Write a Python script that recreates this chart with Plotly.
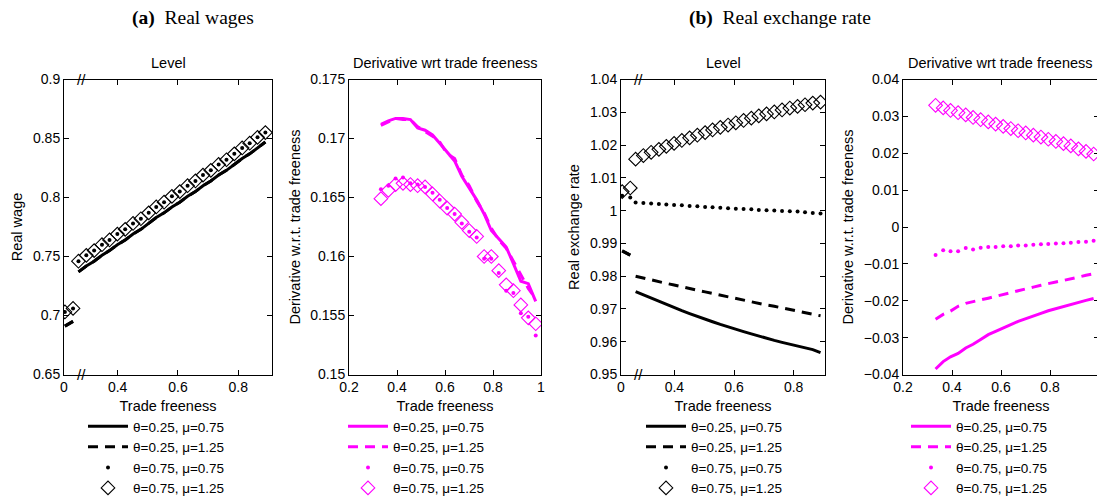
import plotly.graph_objects as go

# ---------------- data ----------------
series_names = ["θ=0.25, μ=0.75", "θ=0.25, μ=1.25", "θ=0.75, μ=0.75", "θ=0.75, μ=1.25"]

# trade freeness grid (level panels: near-zero segment + main segment)
x_zero = [0.225, 0.252]
x_level = [0.270, 0.296, 0.322, 0.348, 0.373, 0.399, 0.425, 0.451, 0.477, 0.503,
           0.528, 0.554, 0.580, 0.606, 0.632, 0.658, 0.683, 0.709, 0.735, 0.761,
           0.787, 0.813, 0.838, 0.864, 0.890]
x_deriv = [0.333, 0.364, 0.394, 0.425, 0.456, 0.486, 0.517, 0.548, 0.578, 0.609,
           0.640, 0.670, 0.701, 0.732, 0.763, 0.793, 0.824, 0.855, 0.885, 0.916,
           0.947, 0.978]

# (a) Real wages - level
wage_zero_s1 = [0.691, 0.695]
wage_zero_s2 = [0.691, 0.695]
wage_zero_s3 = [0.703, 0.706]
wage_zero_s4 = [0.703, 0.706]
wage_s1 = [0.737, 0.742, 0.746, 0.751, 0.755, 0.760, 0.764, 0.769, 0.773, 0.778,
           0.783, 0.787, 0.792, 0.796, 0.801, 0.805, 0.810, 0.814, 0.819, 0.823,
           0.828, 0.833, 0.837, 0.842, 0.847]
wage_s2 = [0.737, 0.742, 0.746, 0.751, 0.755, 0.760, 0.764, 0.769, 0.773, 0.778,
           0.783, 0.787, 0.792, 0.796, 0.801, 0.805, 0.810, 0.814, 0.819, 0.823,
           0.828, 0.833, 0.837, 0.842, 0.847]
wage_s3 = [0.746, 0.751, 0.755, 0.760, 0.764, 0.769, 0.773, 0.778, 0.782, 0.787,
           0.792, 0.796, 0.801, 0.805, 0.810, 0.814, 0.819, 0.823, 0.828, 0.832,
           0.837, 0.842, 0.846, 0.851, 0.855]
wage_s4 = [0.746, 0.751, 0.755, 0.760, 0.764, 0.769, 0.773, 0.778, 0.782, 0.787,
           0.792, 0.796, 0.801, 0.805, 0.810, 0.814, 0.819, 0.823, 0.828, 0.832,
           0.837, 0.842, 0.846, 0.851, 0.855]

# (a) Real wages - derivative
dwage_s1 = [0.1712, 0.1715, 0.1717, 0.1717, 0.1716, 0.1709, 0.1707, 0.1703, 0.1696, 0.1688,
            0.1681, 0.1668, 0.1658, 0.1648, 0.1636, 0.1622, 0.1615, 0.1608, 0.1594, 0.1579,
            0.1577, 0.1562]
dwage_s2 = [0.1711, 0.1714, 0.1717, 0.1716, 0.1716, 0.1710, 0.1706, 0.1702, 0.1697, 0.1687,
            0.1683, 0.1669, 0.1660, 0.1647, 0.1637, 0.1624, 0.1614, 0.1607, 0.1596, 0.1585,
            0.1573, 0.1564]
dwage_s3 = [0.1657, 0.1660, 0.1666, 0.1667, 0.1662, 0.1661, 0.1659, 0.1654, 0.1648, 0.1641,
            0.1636, 0.1628, 0.1621, 0.1616, 0.1598, 0.1598, 0.1586, 0.1571, 0.1569, 0.1552,
            0.1549, 0.1533]
dwage_s4 = [0.1649, 0.1656, 0.1661, 0.1662, 0.1661, 0.1660, 0.1659, 0.1653, 0.1647, 0.1641,
            0.1636, 0.1629, 0.1622, 0.1617, 0.1600, 0.1600, 0.1588, 0.1576, 0.1571, 0.1559,
            0.1548, 0.1543]

# (b) Real exchange rate - level
rer_zero_s1 = [0.9877, 0.9864]
rer_zero_s2 = [0.9877, 0.9864]
rer_zero_s3 = [1.0045, 1.0040]
rer_zero_s4 = [1.0058, 1.0069]
rer_s1 = [0.9753, 0.9743, 0.9733, 0.9723, 0.9713, 0.9704, 0.9695, 0.9686, 0.9677, 0.9669,
          0.9661, 0.9653, 0.9645, 0.9638, 0.9631, 0.9624, 0.9617, 0.9611, 0.9604, 0.9598,
          0.9592, 0.9587, 0.9581, 0.9576, 0.9567]
rer_s2 = [0.9800, 0.9794, 0.9789, 0.9783, 0.9778, 0.9773, 0.9767, 0.9762, 0.9757, 0.9752,
          0.9747, 0.9742, 0.9737, 0.9732, 0.9727, 0.9722, 0.9717, 0.9712, 0.9708, 0.9703,
          0.9698, 0.9694, 0.9689, 0.9684, 0.9679]
rer_s3 = [1.0025, 1.0023, 1.0022, 1.0020, 1.0019, 1.0017, 1.0016, 1.0014, 1.0013, 1.0011,
          1.0010, 1.0009, 1.0007, 1.0006, 1.0005, 1.0004, 1.0002, 1.0001, 1.0000, 0.9999,
          0.9998, 0.9997, 0.9995, 0.9993, 0.9991]
rer_s4 = [1.0157, 1.0168, 1.0178, 1.0187, 1.0196, 1.0205, 1.0214, 1.0222, 1.0230, 1.0238,
          1.0246, 1.0254, 1.0261, 1.0268, 1.0275, 1.0282, 1.0289, 1.0295, 1.0301, 1.0307,
          1.0313, 1.0318, 1.0323, 1.0328, 1.0331]

# (b) Real exchange rate - derivative
drer_s1 = [-0.0385, -0.0365, -0.0352, -0.0343, -0.0328, -0.0318, -0.0305, -0.0292, -0.0283, -0.0273,
           -0.0265, -0.0256, -0.0248, -0.0241, -0.0234, -0.0227, -0.0221, -0.0215, -0.0210, -0.0205,
           -0.0199, -0.0194]
drer_s2 = [-0.0250, -0.0237, -0.0228, -0.0215, -0.0207, -0.0203, -0.0198, -0.0193, -0.0188, -0.0184,
           -0.0178, -0.0173, -0.0167, -0.0163, -0.0158, -0.0153, -0.0149, -0.0145, -0.0140, -0.0135,
           -0.0131, -0.0127]
drer_s3 = [-0.0076, -0.0063, -0.0066, -0.0066, -0.0057, -0.0061, -0.0056, -0.0054, -0.0054, -0.0052,
           -0.0052, -0.0050, -0.0050, -0.0048, -0.0047, -0.0046, -0.0045, -0.0044, -0.0043, -0.0041,
           -0.0040, -0.0037]
drer_s4 = [0.0330, 0.0323, 0.0316, 0.0310, 0.0304, 0.0297, 0.0291, 0.0285, 0.0279, 0.0273,
           0.0267, 0.0261, 0.0255, 0.0249, 0.0244, 0.0238, 0.0232, 0.0226, 0.0220, 0.0212,
           0.0205, 0.0198]

level_xticks = [0.0, 0.4, 0.6, 0.8]
level_xticktext = ["0", "0.4", "0.6", "0.8"]

# ---------------- figure ----------------
W, H = 1099, 500
FONT = "Liberation Sans, Arial, Helvetica, sans-serif"
SERIF = "Liberation Serif, Times New Roman, serif"
MAG = "#ff00ff"
BLK = "#000000"

fig = go.Figure()


def px_x(p):
    return p / W


def px_y(p):
    return 1 - p / H


ydom = [px_y(374.5), px_y(79.5)]
xdoms = [[px_x(64), px_x(272)], [px_x(349), px_x(541)],
         [px_x(621), px_x(825)], [px_x(903), 1.0]]


def add_panel(idx, ys_list, color, legend_name):
    xa = "x" if idx == 1 else f"x{idx}"
    ya = "y" if idx == 1 else f"y{idx}"
    styles = [
        dict(mode="lines", line=dict(color=color, width=3, dash="solid")),
        dict(mode="lines", line=dict(color=color, width=3, dash="10px,7px")),
        dict(mode="markers", marker=dict(color=color, size=4, symbol="circle")),
        dict(mode="markers", marker=dict(color=color, size=10.5, symbol="diamond-open",
                                         line=dict(width=1.1, color=color))),
    ]
    for k, (name, (x, y), st) in enumerate(zip(series_names, ys_list, styles)):
        fig.add_trace(go.Scatter(x=x, y=y, name=name, xaxis=xa, yaxis=ya,
                                 legend=legend_name, legendgroup=f"{legend_name}_{k}",
                                 connectgaps=False, **st))


def seg(xz, yz, xm, ym):
    return (list(xz) + [None] + list(xm), list(yz) + [None] + list(ym))


add_panel(1, [seg(x_zero, wage_zero_s1, x_level, wage_s1),
              seg(x_zero, wage_zero_s2, x_level, wage_s2),
              seg(x_zero, wage_zero_s3, x_level, wage_s3),
              seg(x_zero, wage_zero_s4, x_level, wage_s4)], BLK, "legend")
add_panel(2, [(x_deriv, dwage_s1), (x_deriv, dwage_s2),
              (x_deriv, dwage_s3), (x_deriv, dwage_s4)], MAG, "legend2")
add_panel(3, [seg(x_zero, rer_zero_s1, x_level, rer_s1),
              seg(x_zero, rer_zero_s2, x_level, rer_s2),
              seg(x_zero, rer_zero_s3, x_level, rer_s3),
              seg(x_zero, rer_zero_s4, x_level, rer_s4)], BLK, "legend3")
add_panel(4, [(x_deriv, drer_s1), (x_deriv, drer_s2),
              (x_deriv, drer_s3), (x_deriv, drer_s4)], MAG, "legend4")

axis_common = dict(showline=True, linecolor="black", linewidth=1, mirror="allticks",
                   ticks="inside", ticklen=5, tickcolor="black", showgrid=False,
                   zeroline=False, tickfont=dict(family=FONT, size=14, color="black"),
                   title_font=dict(family=FONT, size=14.5, color="black"))

lvl_ranges = [[0.222, 0.912], [0.221, 0.905]]
fig.update_layout(
    xaxis=dict(domain=xdoms[0], anchor="y", range=lvl_ranges[0],
               tickvals=[lvl_ranges[0][0]] + level_xticks[1:], ticktext=level_xticktext,
               title=dict(text="Trade freeness", standoff=6), **axis_common),
    xaxis2=dict(domain=xdoms[1], anchor="y2", range=[0.2, 1.0], dtick=0.2, tick0=0.2,
                title=dict(text="Trade freeness", standoff=6), **axis_common),
    xaxis3=dict(domain=xdoms[2], anchor="y3", range=lvl_ranges[1],
                tickvals=[lvl_ranges[1][0]] + level_xticks[1:], ticktext=level_xticktext,
                title=dict(text="Trade freeness", standoff=6), **axis_common),
    xaxis4=dict(domain=xdoms[3], anchor="y4", range=[0.2, 1.0], dtick=0.2, tick0=0.2,
                title=dict(text="Trade freeness", standoff=6), **axis_common),
    yaxis=dict(domain=ydom, anchor="x", range=[0.65, 0.9], dtick=0.05, tick0=0.65,
               title=dict(text="Real wage", standoff=6), **axis_common),
    yaxis2=dict(domain=ydom, anchor="x2", range=[0.15, 0.175], dtick=0.005, tick0=0.15,
                title=dict(text="Derivative w.r.t. trade freeness", standoff=6), **axis_common),
    yaxis3=dict(domain=ydom, anchor="x3", range=[0.95, 1.04], dtick=0.01, tick0=0.95,
                title=dict(text="Real exchange rate", standoff=6), **axis_common),
    yaxis4=dict(domain=ydom, anchor="x4", range=[-0.04, 0.04], dtick=0.01, tick0=-0.04,
                title=dict(text="Derivative w.r.t. trade freeness", standoff=6), **axis_common),
)

leg_common = dict(yanchor="top", xanchor="left", bgcolor="rgba(255,255,255,0)",
                  font=dict(family=FONT, size=13.5, color="black"),
                  tracegroupgap=0, itemwidth=40, borderwidth=0)
leg_y = px_y(411)
fig.update_layout(
    legend=dict(x=px_x(83), y=leg_y, **leg_common),
    legend2=dict(x=px_x(343), y=leg_y, **leg_common),
    legend3=dict(x=px_x(641), y=leg_y, **leg_common),
    legend4=dict(x=px_x(906), y=leg_y, **leg_common),
)

annotations = []
for dom, txt in zip(xdoms, ["Level", "Derivative wrt trade freeness",
                            "Level", "Derivative wrt trade freeness"]):
    annotations.append(dict(x=(dom[0] + dom[1]) / 2 if dom[1] < 1 else px_x(1000),
                            y=px_y(63), xref="paper", yref="paper",
                            text=txt, showarrow=False,
                            font=dict(family=FONT, size=14.5, color="black"),
                            xanchor="center", yanchor="middle"))
annotations.append(dict(x=px_x(193), y=px_y(18), xref="paper", yref="paper",
                        text="<b>(a)</b>  Real wages", showarrow=False,
                        font=dict(family=SERIF, size=19.5, color="black"),
                        xanchor="center", yanchor="middle"))
annotations.append(dict(x=px_x(780), y=px_y(18), xref="paper", yref="paper",
                        text="<b>(b)</b>  Real exchange rate", showarrow=False,
                        font=dict(family=SERIF, size=19.5, color="black"),
                        xanchor="center", yanchor="middle"))
for xr, yr in [("x", "y domain"), ("x3", "y3 domain")]:
    for yy in [0, 1]:
        annotations.append(dict(x=0.28, y=yy, xref=xr, yref=yr, text="//",
                                showarrow=False, font=dict(family=FONT, size=15, color="black"),
                                xanchor="center", yanchor="middle"))
fig.update_layout(annotations=annotations)

fig.update_layout(width=W, height=H,
                  margin=dict(l=0, r=0, t=0, b=0, autoexpand=False),
                  paper_bgcolor="white", plot_bgcolor="white", showlegend=True)

fig.write_html("out.html", config={"displayModeBar": False},
               post_script="document.body.style.margin='0px';document.body.style.overflow='hidden';")
